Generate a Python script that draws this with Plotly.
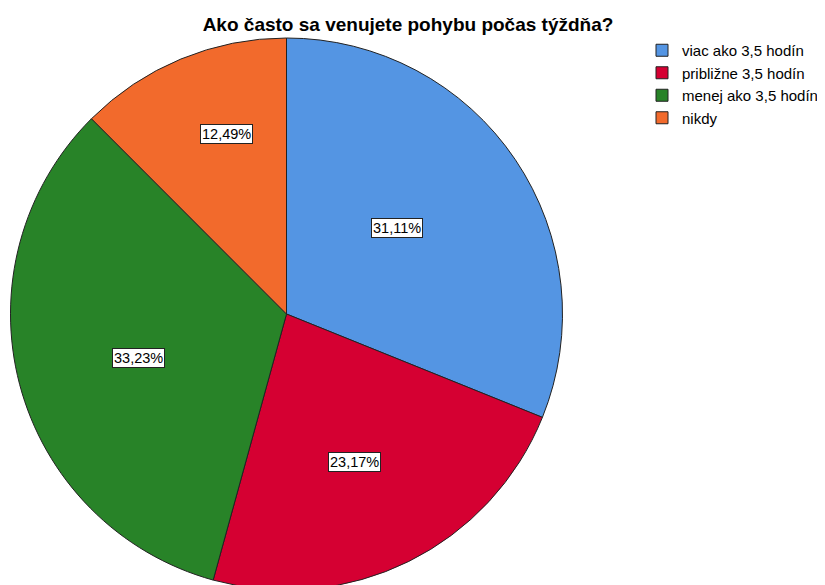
import math
import plotly.graph_objects as go

categories = ["viac ako 3,5 hodín", "približne 3,5 hodín", "menej ako 3,5 hodín", "nikdy"]
percentages = [31.11, 23.17, 33.23, 12.49]
colors = ["#5495E3", "#D50032", "#288328", "#F26A2C"]
title_text = "Ako často sa venujete pohybu počas týždňa?"

W, H = 825, 585
# page body adds an 8px offset, so figure coordinates are shifted accordingly
CX, CY, R = 278.5, 306, 276
# placement of each value box inside its slice (layout settings):
# fraction of the radius, and fraction along the slice's angular span
label_radius = [0.507, 0.59, 0.558, 0.688]
label_along = [0.465, 0.52, 0.485, 0.59]
FONT = "Liberation Sans, Arial, sans-serif"

fig = go.Figure(go.Pie(
    labels=categories,
    values=percentages,
    marker=dict(colors=colors, line=dict(color="#222222", width=1)),
    sort=False,
    direction="clockwise",
    rotation=0,
    textinfo="none",
    hoverinfo="label+percent",
    domain=dict(x=[(CX - R) / W, (CX + R) / W], y=[(H - CY - R) / H, (H - CY + R) / H]),
))

total = sum(percentages)
cum = 0.0
annotations = []
for v, f, a in zip(percentages, label_radius, label_along):
    ang = (cum + a * v) / total * 2 * math.pi
    cum += v
    px = CX + f * R * math.sin(ang)
    py = CY - f * R * math.cos(ang)
    annotations.append(dict(
        x=px / W, y=1 - py / H, xref="paper", yref="paper",
        xanchor="center", yanchor="middle",
        text=f"{v:.2f}".replace(".", ",") + "%",
        showarrow=False,
        font=dict(family=FONT, size=14.5, color="black"),
        bgcolor="white", bordercolor="#222222", borderwidth=1, borderpad=1,
    ))

fig.update_layout(
    width=W, height=H,
    margin=dict(l=0, r=0, t=0, b=0),
    paper_bgcolor="white", plot_bgcolor="white",
    title=dict(text="<b>" + title_text + "</b>", x=400 / W, xanchor="center",
               y=1 - 16 / H, yanchor="middle",
               font=dict(family=FONT, size=19, color="black")),
    legend=dict(x=634 / W, xanchor="left", y=1 - 26 / H, yanchor="top",
                font=dict(family=FONT, size=15, color="black"),
                bgcolor="rgba(0,0,0,0)", tracegroupgap=0),
    annotations=annotations,
)

fig.write_html("out.html")
